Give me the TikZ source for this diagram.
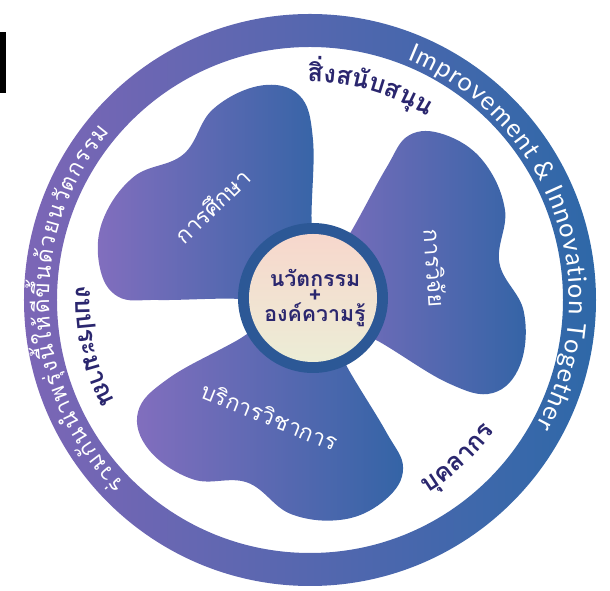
\documentclass[tikz,border=0pt]{standalone}
\usepackage{fontspec}
\newfontfamily\thaifont[Script=Thai]{Loma}
\newfontfamily\latinfont{Lato}
\usetikzlibrary{decorations.text}
\definecolor{ringpurple}{RGB}{124,102,182}
\definecolor{ringblue}{RGB}{46,104,168}
\definecolor{bladepurple}{RGB}{130,110,190}
\definecolor{bladeblue}{RGB}{52,100,166}
\definecolor{hubblue}{RGB}{44,88,150}
\definecolor{hubpink}{RGB}{247,215,204}
\definecolor{hubcream}{RGB}{236,237,214}
\definecolor{navy}{RGB}{42,38,110}
\tikzset{
  blade/.style={left color=bladepurple, right color=bladeblue},
  bladelabel/.style={text=white, font=\thaifont\fontsize{17}{19}\selectfont},
  gaplabel/.style={decorate, decoration={text along path, text align=center, text color=navy}},
  ringlabel/.style={decorate, decoration={text along path, text align=fit to path, text color=white}}
}
\newcommand{\gapfont}{\thaifont\bfseries\fontsize{19}{19}\selectfont}

\begin{document}
\begin{tikzpicture}[x=0.75pt,y=0.75pt]
          \useasboundingbox (-310,-291) rectangle (300,300);
          % basics
          \fill[black] (-310,268) rectangle (-304,207);
          \shade[left color=ringpurple, right color=ringblue, even odd rule] (0,0) circle (286) (0,0) circle (253);
          % three blades
          \foreach \a in {14,134,254}
            \shade[blade] plot[smooth cycle, tension=0.65] coordinates {(\a:0) ({\a-45}:85) ({\a-45}:162) ({\a-41}:205) ({\a-31}:220) ({\a-17}:214) ({\a-3}:193) ({\a+11}:215) ({\a+25}:222) ({\a+37}:213) ({\a+45}:192) ({\a+46}:152) ({\a+45}:80)};
          % hub
          \fill[hubblue] (3,2) circle (75);
          \shade[top color=hubpink, bottom color=hubcream] (3,2) circle (64);
          \node[font=\thaifont\bfseries\fontsize{16}{18}\selectfont, text=navy, align=center] (hubtext) at (5,2) {นวัตกรรม\\[-6pt]+\\[-4pt]องค์ความรู้};
          \node[bladelabel, rotate=44] (study) at (-98,94) {การศึกษา};
          \node[bladelabel, rotate=-86] (research) at (125,32) {การวิจัย};
          \node[bladelabel, rotate=-22] (service) at (-40,-116) {บริการวิชาการ};
          % labels in the gaps
          \path[gaplabel, decoration={text={|\gapfont|{สิ่}{ง}{ส}{นั}{บ}{ส}{นุ}{น}}}] (96:218) arc[start angle=96, end angle=52, radius=218];
          \path[gaplabel, decoration={text={|\gapfont|{ง}{บ}{ป}{ร}{ะ}{ม}{า}{ณ}}}] (170:234) arc[start angle=170, end angle=214, radius=234];
          \path[gaplabel, decoration={text={|\gapfont|{บุ}{ค}{ล}{า}{ก}{ร}}}] (-70:226) arc[start angle=-70, end angle=-24, radius=226];
          % ring texts
          \path[ringlabel, decoration={text={|\latinfont\fontsize{19}{19}\selectfont|Improvement {\&} Innovation Together}}] (68:259) arc[start angle=68, end angle=-29, radius=259];
          \path[ringlabel, decoration={text={|\thaifont\fontsize{17}{17}\selectfont|{ร่}{ว}{ม}{กั}{น}{นำ}{พ}{รุ่}{ง}{นี้}{ใ}{ห้}{ดี}{ขึ้}{น}{ด้}{ว}{ย}{น}{วั}{ต}{ก}{ร}{ร}{ม}}}] (225:261) arc[start angle=225, end angle=140, radius=261];
\end{tikzpicture}
\end{document}
